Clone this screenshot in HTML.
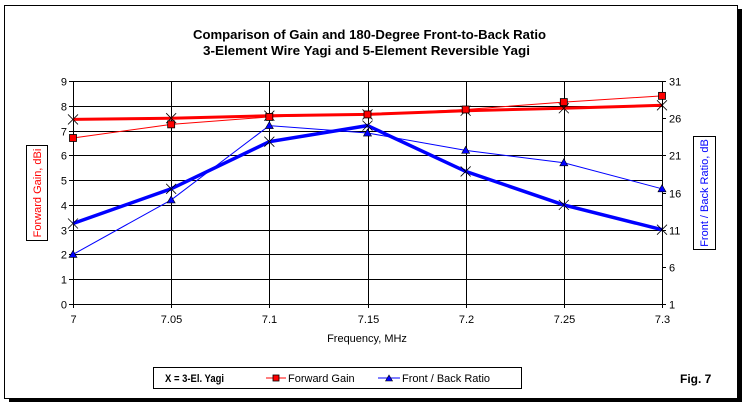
<!DOCTYPE html>
<html><head><meta charset="utf-8"><style>
html,body{margin:0;padding:0;background:#fff;}
svg{display:block;font-family:"Liberation Sans",Arial,sans-serif;}
</style></head><body>
<svg id="s" width="744" height="407" viewBox="0 0 744 407" xmlns="http://www.w3.org/2000/svg">
<rect x="0" y="0" width="744" height="407" fill="#fff"/>
<rect x="737" y="9" width="5" height="393" fill="#000"/>
<rect x="9" y="398" width="733" height="4" fill="#000"/>
<rect x="4.5" y="5.5" width="733" height="393" fill="#fff" stroke="#000" stroke-width="1"/>
<text x="369.5" y="39" font-size="13" font-weight="bold" text-anchor="middle" textLength="353" lengthAdjust="spacingAndGlyphs">Comparison of Gain and 180-Degree Front-to-Back Ratio</text>
<text x="366.5" y="55" font-size="13" font-weight="bold" text-anchor="middle" textLength="327" lengthAdjust="spacingAndGlyphs">3-Element Wire Yagi and 5-Element Reversible Yagi</text>
<g id="grid"></g>
<rect x="26.5" y="145.5" width="21" height="95" fill="#fff" stroke="#000"/>
<text transform="translate(41,193) rotate(-90)" font-size="11" fill="#f00" text-anchor="middle">Forward Gain,  dBi</text>
<rect x="693.5" y="136.5" width="22" height="113" fill="#fff" stroke="#000"/>
<text transform="translate(708,193) rotate(-90)" font-size="11" fill="#00f" text-anchor="middle">Front / Back Ratio,  dB</text>
<text x="367" y="342" font-size="11" text-anchor="middle">Frequency, MHz</text>
<rect x="153.5" y="367.5" width="368" height="21" fill="#fff" stroke="#000"/>
<text x="165" y="382" font-size="11" font-weight="bold" textLength="59" lengthAdjust="spacingAndGlyphs">X = 3-El. Yagi</text>
<line x1="266" y1="378" x2="286" y2="378" stroke="#f00"/>
<rect x="273" y="375" width="6" height="6" fill="#f00" stroke="#000" stroke-width="0.8"/>
<text x="288" y="382" font-size="11">Forward Gain</text>
<line x1="378" y1="378" x2="400" y2="378" stroke="#00f"/>
<polygon points="385.5,381 389,375 392.5,381" fill="#00f" stroke="#000" stroke-width="0.6"/>
<text x="402" y="382" font-size="11">Front / Back Ratio</text>
<text x="680" y="383" font-size="12" font-weight="bold">Fig. 7</text>
</svg>
<script>
var s=document.getElementById('g')||document.getElementById('grid');
var NS="http://www.w3.org/2000/svg",h="";
var L=73,R=662,T=81,B=304;
function X(i){return L+i*(R-L)/6;}
function Y(v){return B-v*(B-T)/9;}
for(var v=0;v<=9;v++){var y=Math.round(Y(v))+0.5;h+='<line x1="'+(L-4)+'" y1="'+y+'" x2="'+R+'" y2="'+y+'" stroke="#000"/>';
h+='<text x="'+(L-6)+'" y="'+(y+4)+'" font-size="11" text-anchor="end">'+v+'</text>';}
for(var k=0;k<7;k++){var yy=Math.round(B-(k*5)*(B-T)/30)+0.5;h+='<line x1="'+R+'" y1="'+yy+'" x2="'+(R+4)+'" y2="'+yy+'" stroke="#000"/>';
h+='<text x="'+(R+7)+'" y="'+(yy+4)+'" font-size="11">'+(1+k*5)+'</text>';}
var xl=["7","7.05","7.1","7.15","7.2","7.25","7.3"];
for(var i=0;i<7;i++){var x=Math.round(X(i))+0.5;h+='<line x1="'+x+'" y1="'+T+'" x2="'+x+'" y2="'+(B+4)+'" stroke="#000"/>';
h+='<text x="'+x+'" y="'+(B+19)+'" font-size="11" text-anchor="middle">'+xl[i]+'</text>';}
function pl(d,c,w){var p=d.map(function(v,i){return X(i).toFixed(1)+','+Y(v).toFixed(1)}).join(' ');return '<polyline points="'+p+'" fill="none" stroke="'+c+'" stroke-width="'+w+'"/>';}
var fg=[6.7,7.25,7.55,7.65,7.85,8.15,8.4],g3=[7.45,7.5,7.6,7.65,7.8,7.9,8.02];
var fb=[2.0,4.2,7.2,6.9,6.2,5.7,4.65],b3=[3.25,4.65,6.55,7.2,5.35,4.0,3.0];
h+=pl(fg,"#f00",1)+pl(g3,"#f00",3)+pl(fb,"#00f",1)+pl(b3,"#00f",3.5);
function xm(d){var r="";d.forEach(function(v,i){var x=X(i),y=Y(v);r+='<path d="M'+(x-5)+','+(y-5)+'L'+(x+5)+','+(y+5)+'M'+(x-5)+','+(y+5)+'L'+(x+5)+','+(y-5)+'" stroke="#000" stroke-width="0.8"/>';});return r;}
h+=xm(g3)+xm(b3);
fg.forEach(function(v,i){h+='<rect x="'+(X(i)-3.5)+'" y="'+(Y(v)-3.5)+'" width="7" height="7" fill="#f00" stroke="#000" stroke-width="0.8"/>';});
fb.forEach(function(v,i){var x=X(i),y=Y(v);h+='<polygon points="'+(x-4)+','+(y+3)+' '+x+','+(y-4)+' '+(x+4)+','+(y+3)+'" fill="#00f" stroke="#000" stroke-width="0.6"/>';});
s.innerHTML=h;
</script>
</body></html>
